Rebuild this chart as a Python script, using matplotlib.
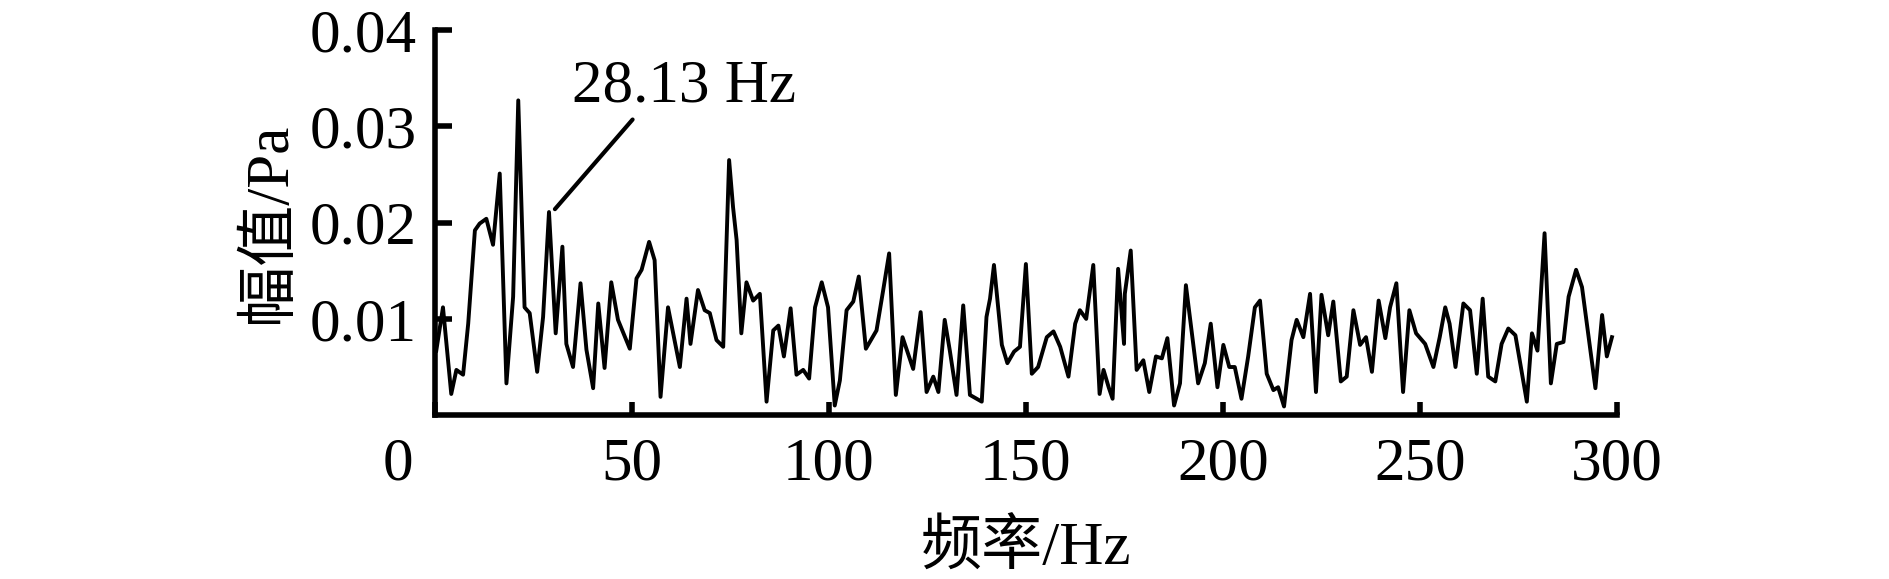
import matplotlib
matplotlib.use("Agg")
import matplotlib.pyplot as plt
from matplotlib.transforms import ScaledTranslation

plt.rcParams["font.family"] = ["Liberation Serif", "Noto Sans CJK SC"]

# spectrum vertices (Hz, Pa)
freq = [0.4, 2.1, 4.2, 5.5, 7.2, 8.5, 10.2, 11.4, 13.1, 14.8, 16.5, 18.2, 19.9, 21.2,
        22.8, 24.1, 26.0, 27.5, 29.0, 30.7, 32.4, 33.4, 35.1, 37.0, 38.5, 40.2, 41.5,
        43.1, 44.8, 46.5, 49.5, 51.2, 52.5, 54.4, 55.8, 57.3, 59.2, 62.2, 63.9, 64.9,
        66.8, 68.5, 69.8, 71.5, 73.2, 74.7, 75.7, 76.6, 77.8, 79.1, 80.8, 82.5, 84.2,
        85.9, 87.2, 88.6, 90.3, 91.8, 93.5, 95.0, 96.5, 98.2, 99.8, 101.5, 102.8, 104.5,
        106.2, 107.6, 109.4, 112.1, 113.8, 115.3, 117.0, 118.7, 121.4, 123.3, 124.8,
        126.5, 127.8, 129.4, 130.7, 132.4, 134.1, 135.8, 138.8, 140.0, 140.9, 141.9,
        143.9, 145.3, 147.0, 148.5, 150.0, 151.5, 153.1, 155.3, 157.0, 158.7, 160.8,
        162.5, 163.7, 165.3, 167.1, 168.7, 169.7, 171.0, 172.0, 173.4, 174.9, 175.1,
        176.6, 178.1, 179.8, 181.3, 183.0, 184.5, 185.9, 187.6, 189.1, 190.6, 191.6,
        193.7, 195.4, 196.9, 198.6, 200.1, 201.6, 203.0, 204.7, 206.4, 208.1, 209.4,
        211.1, 212.8, 214.0, 215.5, 217.4, 218.7, 220.4, 222.1, 223.6, 225.0, 226.7,
        228.0, 229.9, 231.4, 233.1, 234.8, 236.3, 237.8, 239.5, 241.2, 242.4, 244.0,
        245.7, 247.3, 249.0, 251.3, 253.4, 255.0, 256.4, 257.5, 259.0, 261.0, 262.7,
        264.4, 265.9, 267.3, 269.1, 270.7, 272.4, 274.2, 277.1, 278.4, 279.8, 281.6,
        283.2, 284.7, 286.4, 287.7, 289.6, 291.1, 294.5, 296.2, 297.4, 298.7]
amp = [0.0067, 0.0112, 0.0022, 0.0047, 0.0042, 0.0095, 0.0192, 0.0199, 0.0204, 0.0177,
       0.0251, 0.0033, 0.0123, 0.0327, 0.0112, 0.0106, 0.0045, 0.0102, 0.0211, 0.0085,
       0.0175, 0.0074, 0.0050, 0.0137, 0.0068, 0.0028, 0.0116,
       0.0049, 0.0138, 0.0099, 0.0069, 0.0142, 0.0151, 0.0180, 0.0161, 0.0019, 0.0112,
       0.0050, 0.0121, 0.0074, 0.0130, 0.0109, 0.0106, 0.0078, 0.0071, 0.0265, 0.0216,
       0.0182, 0.0085, 0.0138, 0.0119, 0.0126, 0.0014,
       0.0088, 0.0093, 0.0061, 0.0111, 0.0042, 0.0047, 0.0038, 0.0112, 0.0138, 0.0112,
       0.0010, 0.0036, 0.0109, 0.0118, 0.0144, 0.0069, 0.0088, 0.0130, 0.0168, 0.0021,
       0.0081, 0.0048, 0.0107, 0.0024, 0.0040, 0.0024,
       0.0099, 0.0067, 0.0021, 0.0114, 0.0021, 0.0014, 0.0102, 0.0121, 0.0156, 0.0073,
       0.0054, 0.0066, 0.0071, 0.0157, 0.0043, 0.0050, 0.0081, 0.0087, 0.0071, 0.0040,
       0.0095, 0.0109, 0.0100, 0.0156, 0.0022, 0.0047, 0.0029,
       0.0017, 0.0152, 0.0074, 0.0126, 0.0171, 0.0047, 0.0057, 0.0024, 0.0061, 0.0059,
       0.0080, 0.0010, 0.0033, 0.0135, 0.0102, 0.0033, 0.0054, 0.0095, 0.0029, 0.0073,
       0.0050, 0.0050, 0.0017, 0.0061, 0.0112, 0.0119, 0.0043, 0.0026, 0.0029,
       0.0009, 0.0078, 0.0099, 0.0081, 0.0126, 0.0024, 0.0125, 0.0083, 0.0118, 0.0035,
       0.0040, 0.0109, 0.0073, 0.0081, 0.0045, 0.0119, 0.0080, 0.0112, 0.0137, 0.0024,
       0.0109, 0.0085, 0.0074, 0.0050, 0.0081, 0.0112, 0.0095,
       0.0050, 0.0116, 0.0109, 0.0043, 0.0121, 0.0040, 0.0035, 0.0074, 0.0090, 0.0083,
       0.0014, 0.0085, 0.0067, 0.0189, 0.0033, 0.0074, 0.0076, 0.0123, 0.0151, 0.0133,
       0.0028, 0.0104, 0.0061, 0.0081]

xticks = [0, 50, 100, 150, 200, 250, 300]
yticks = [0.01, 0.02, 0.03, 0.04]
ytick_labels = ["0.01", "0.02", "0.03", "0.04"]

peak_label = "28.13 Hz"
peak_xy = (30.5, 0.0214)
peak_text_xy = (34.8, 0.0341)

fig = plt.figure(figsize=(18.9, 5.79), dpi=100)
ax = fig.add_axes([0.230, 0.283, 0.6256, 0.665])

ax.plot(freq, amp, color="black", lw=2.8)

ax.set_xlim(0, 300)
ax.set_ylim(0, 0.04)
ax.set_xticks(xticks)
ax.set_xticklabels([str(v) for v in xticks])
ax.set_yticks(yticks)
ax.set_yticklabels(ytick_labels)

for s in ["top", "right"]:
    ax.spines[s].set_visible(False)
for s in ["left", "bottom"]:
    ax.spines[s].set_linewidth(4)

ax.tick_params(axis="x", direction="in", length=9.5, width=4, labelsize=44, pad=16)
ax.tick_params(axis="y", direction="in", length=12, width=4, labelsize=44, pad=13)

# the "0" sits at the corner, left of the origin
lbl0 = ax.get_xticklabels()[0]
lbl0.set_transform(lbl0.get_transform() + ScaledTranslation(-0.37, 0, fig.dpi_scale_trans))

ax.set_xlabel("频率/Hz", fontsize=44, labelpad=20)
ax.set_ylabel("幅值/Pa", fontsize=44, labelpad=8)

ax.annotate(peak_label, xy=peak_xy, xytext=peak_text_xy, fontsize=44,
            ha="left", va="center",
            arrowprops=dict(arrowstyle="-", lw=3, color="black",
                            shrinkA=2, shrinkB=0, relpos=(0.29, 0)))

fig.savefig("out.png", dpi=100)
